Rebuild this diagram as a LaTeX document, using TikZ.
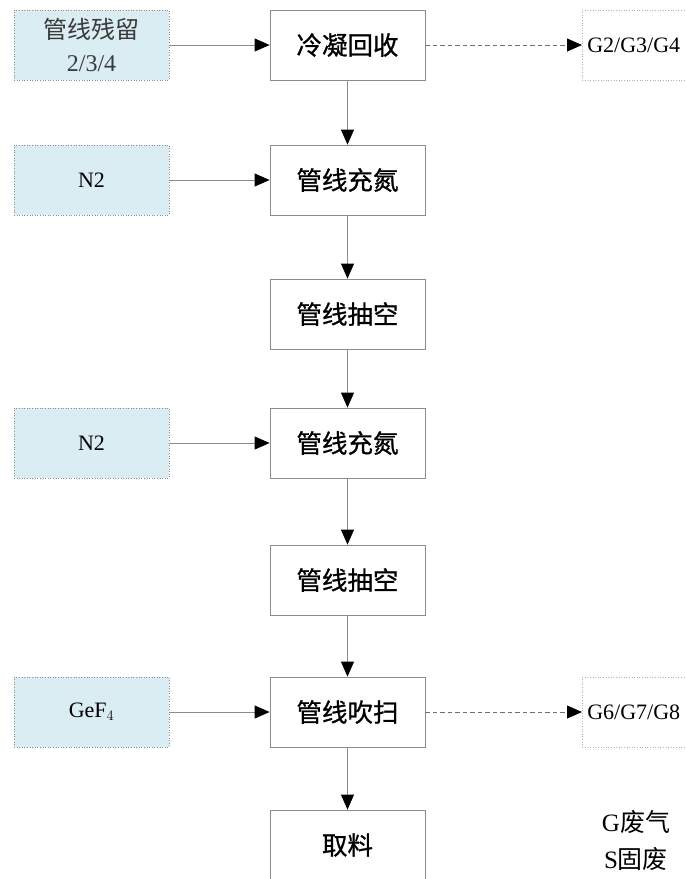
\documentclass[tikz,border=0pt]{standalone}
\usepackage{fontspec}
\setmainfont{Liberation Serif}
\newfontfamily\cjk{Noto Sans CJK SC}
\newfontfamily\cjkb[FakeBold=0.9]{Noto Sans CJK SC}
\usetikzlibrary{arrows.meta}
\definecolor{inblue}{HTML}{DAEDF3}
\definecolor{boxgray}{HTML}{8C8C8C}
\definecolor{txtgray}{HTML}{3A3A3A}
\begin{document}
\begin{tikzpicture}[x=1pt,y=-1pt,
  procbox/.style={draw=boxgray,line width=0.8pt,fill=white,minimum width=155pt,minimum height=70pt,inner sep=0pt,font=\fontsize{25.5}{30}\selectfont\cjkb},
  inbox/.style={draw=boxgray,dotted,line width=0.6pt,fill=inblue,minimum width=155pt,minimum height=70pt,inner sep=0pt,align=center},
  outbox/.style={draw=boxgray!70,dotted,line width=0.6pt,fill=white,minimum height=70pt,text width=145pt,inner sep=5pt,align=left,anchor=west,font=\fontsize{22}{26}\selectfont},
  flow/.style={draw=boxgray,line width=0.8pt,-{Triangle[length=15pt,width=13pt,black]}},
  dflow/.style={flow,draw=boxgray!80!black,dashed,dash pattern=on 4.5pt off 3pt}
]
\useasboundingbox (0,0) rectangle (686,879);
\clip (0,0) rectangle (686,879);

\node[procbox] (c1) at (347.5,45) {冷凝回收};
\node[procbox] (c2) at (347.5,180) {管线充氮};
\node[procbox] (c3) at (347.5,314) {管线抽空};
\node[procbox] (c4) at (347.5,443) {管线充氮};
\node[procbox] (c5) at (347.5,580) {管线抽空};
\node[procbox] (c6) at (347.5,712) {管线吹扫};
\node[procbox] (c7) at (347.5,845) {取料};

\node[inbox,text=txtgray,font=\fontsize{24}{33}\selectfont] (l1) at (91.5,45) {{\cjk 管线残留}\\2/3/4};
\node[inbox,font=\fontsize{22}{26}\selectfont] (l2) at (91.5,180) {N2};
\node[inbox,font=\fontsize{22}{26}\selectfont] (l4) at (91.5,443) {N2};
\node[inbox,font=\fontsize{22}{26}\selectfont] (l6) at (91.5,712) {GeF$_4$};

\node[outbox] (r1) at (582,45) {G2/G3/G4};
\node[outbox] (r6) at (582,712) {G6/G7/G8};

\node[align=center,font=\fontsize{25}{37}\selectfont] (leg) at (636,841) {G{\cjk 废气}\\S{\cjk 固废}};

\draw[flow] (l1) -- (c1);
\draw[flow] (l2) -- (c2);
\draw[flow] (l4) -- (c4);
\draw[flow] (l6) -- (c6);
\draw[dflow] (c1) -- (r1);
\draw[dflow] (c6) -- (r6);
\draw[flow] (c1) -- (c2);
\draw[flow] (c2) -- (c3);
\draw[flow] (c3) -- (c4);
\draw[flow] (c4) -- (c5);
\draw[flow] (c5) -- (c6);
\draw[flow] (c6) -- (c7);
\end{tikzpicture}
\end{document}
